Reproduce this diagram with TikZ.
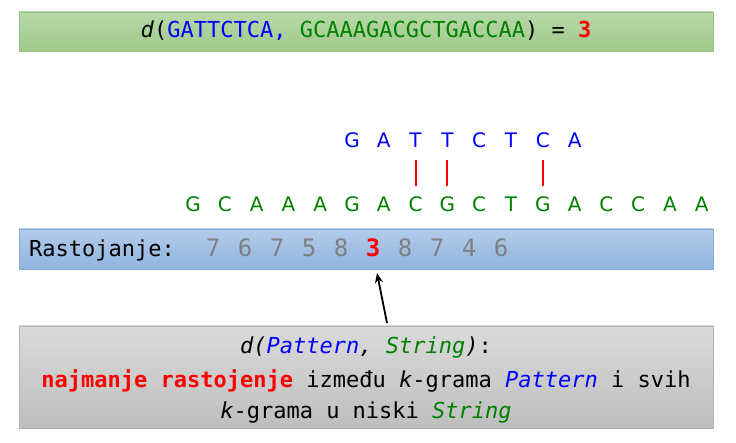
\documentclass[tikz,border=0pt]{standalone}
\usepackage{fontspec}
\setmonofont{DejaVu Sans Mono}
\setsansfont{DejaVu Sans}
\usetikzlibrary{arrows.meta}
\definecolor{pblue}{RGB}{0,0,255}
\definecolor{sgreen}{RGB}{0,128,0}
\definecolor{mred}{RGB}{255,0,0}
\definecolor{numgray}{RGB}{128,128,128}
\definecolor{gtop}{RGB}{184,216,168}
\definecolor{gbot}{RGB}{158,200,138}
\definecolor{gline}{RGB}{150,196,128}
\definecolor{btop}{RGB}{178,203,235}
\definecolor{bbot}{RGB}{145,180,224}
\definecolor{bline}{RGB}{140,172,216}
\definecolor{ytop}{RGB}{218,218,218}
\definecolor{ybot}{RGB}{190,190,190}
\definecolor{yline}{RGB}{178,178,178}
\begin{document}
\begin{tikzpicture}[x=1pt,y=-1pt,
  panel/.style={minimum width=694pt, inner sep=0pt, line width=0.8pt},
  mono/.style={font=\ttfamily\fontsize{22}{26}\selectfont, inner sep=0pt, anchor=base},
  seq/.style={font=\sffamily\fontsize{20}{24}\selectfont, inner sep=0pt, anchor=base},
  num/.style={font=\ttfamily\fontsize{24}{28}\selectfont, inner sep=0pt, anchor=base, text=numgray},
  bar/.style={draw=mred, line width=2pt},
  arr/.style={-{Stealth[length=10pt,width=8pt]}, line width=1.8pt, black}
]
\useasboundingbox (0,0) rectangle (736,443);

% panels
\node[panel, minimum height=39pt, top color=gtop, bottom color=gbot, draw=gline] (banner) at (366,31.5) {};
\node[panel, minimum height=40pt, top color=btop, bottom color=bbot, draw=bline] (distbar) at (366,249) {};
\node[panel, minimum height=102pt, top color=ytop, bottom color=ybot, draw=yline] (defbox) at (366,377) {};

% banner text
\node[mono] (bt) at (366,38) {\textit{d}(\textcolor{pblue}{GATTCTCA,} \textcolor{sgreen}{GCAAAGACGCTGACCAA}) = \textcolor{mred}{\bfseries 3}};

% string letters
\foreach \c [count=\i from 0] in {G,C,A,A,A,G,A,C,G,C,T,G,A,C,C,A,A}{
  \node[seq, text=sgreen] (s\i) at ({193+31.8*\i},212) {\c};
}
% pattern letters
\foreach \c [count=\i from 0] in {G,A,T,T,C,T,C,A}{
  \node[seq, text=pblue] (p\i) at ({193+31.8*(\i+5)},148) {\c};
}
% mismatch bars
\draw[bar, shorten <=12pt, shorten >=11pt] (p2.south) -- (s7.north);
\draw[bar, shorten <=12pt, shorten >=11pt] (p3.south) -- (s8.north);
\draw[bar, shorten <=12pt, shorten >=11pt] (p6.south) -- (s11.north);

% distances
\node[mono, anchor=base west] (rlabel) at (29,257) {Rastojanje:};
\foreach \n [count=\i from 0] in {7,6,7,5,8,3,8,7,4,6}{
  \ifnum\i=5
    \node[num, text=mred, font=\ttfamily\bfseries\fontsize{24}{28}\selectfont] (n\i) at ({213+32*\i},257) {\n};
  \else
    \node[num] (n\i) at ({213+32*\i},257) {\n};
  \fi
}

% arrow
\coordinate (atail) at (387,323);
\coordinate (ahead) at (377,273);
\draw[arr] (atail) -- (ahead);

% definition text
\node[mono] (d1) at (366,354) {\textit{d(\textcolor{pblue}{Pattern}, \textcolor{sgreen}{String})}:};
\node[mono] (d2) at (366,388) {\textcolor{mred}{\bfseries najmanje rastojenje} između \textit{k}-grama \textcolor{pblue}{\itshape Pattern} i svih};
\node[mono] (d3) at (366,418) {\textit{k}-grama u niski \textcolor{sgreen}{\itshape String}};
\end{tikzpicture}
\end{document}
